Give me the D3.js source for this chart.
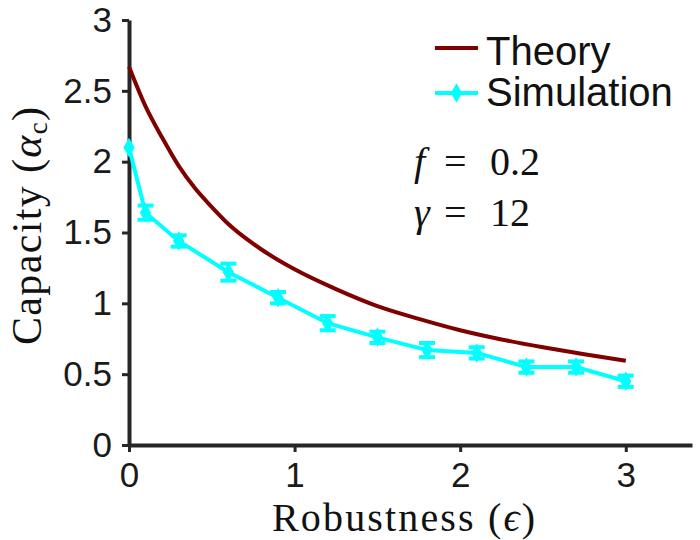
<!DOCTYPE html>
<html lang="en">
<head>
    <meta charset="UTF-8">
    <title>Capacity vs Robustness</title>
    <script src="https://d3js.org/d3.v7.min.js"></script>
    <style>
        body { margin: 0; background: #fff; }
        .tick text { font-family: "Liberation Sans", Arial, sans-serif; fill: #1a1a1a; }
        .serif { font-family: "Liberation Serif", "Times New Roman", serif; fill: #111; }
    </style>
</head>
<body>
    <div id="chart"></div>
    <script>
        // Theory curve
        const theoryEps = [0, 0.1, 0.2, 0.3, 0.4, 0.5, 0.6, 0.8, 1.0, 1.25, 1.5, 1.75, 2.0, 2.25, 2.5, 2.75, 3.0];
        const theoryCap = [2.67, 2.39, 2.17, 1.97, 1.81, 1.68, 1.56, 1.38, 1.24, 1.10, 0.98, 0.89, 0.81, 0.745, 0.69, 0.64, 0.595];

        // Simulation points with error bars
        const simEps = [0, 0.1, 0.3, 0.6, 0.9, 1.2, 1.5, 1.8, 2.1, 2.4, 2.7, 3.0];
        const simCap = [2.10, 1.64, 1.44, 1.22, 1.04, 0.86, 0.76, 0.67, 0.65, 0.55, 0.55, 0.45];
        const simErr = [0.0, 0.05, 0.04, 0.06, 0.04, 0.05, 0.04, 0.05, 0.04, 0.04, 0.04, 0.04];

        const xTicks = [0, 1, 2, 3];
        const yTicks = [0, 0.5, 1, 1.5, 2, 2.5, 3];

        const width = 700, height = 540;
        const theoryColor = "#800000", simColor = "#00ffff", axisColor = "#262626";

        const svg = d3.select("#chart").append("svg")
            .attr("width", width)
            .attr("height", height);

        const x = d3.scaleLinear().domain([0, 3.4]).range([129, 692]);
        const y = d3.scaleLinear().domain([0, 3]).range([445, 20]);

        // axes
        const xAxis = svg.append("g")
            .attr("transform", `translate(0,${y(0)})`)
            .call(d3.axisBottom(x).tickValues(xTicks).tickFormat(d3.format("d"))
                .tickSize(7).tickSizeOuter(0).tickPadding(10));
        const yAxis = svg.append("g")
            .attr("transform", `translate(${x(0)},0)`)
            .call(d3.axisLeft(y).tickValues(yTicks).tickFormat(d => String(d))
                .tickSize(7).tickSizeOuter(0).tickPadding(10));

        [xAxis, yAxis].forEach(g => {
            g.select(".domain").attr("stroke", axisColor).attr("stroke-width", 4);
            g.selectAll(".tick line").attr("stroke", axisColor).attr("stroke-width", 3);
            g.selectAll(".tick text").attr("font-size", 35);
        });

        // theory line
        const theory = theoryEps.map((e, i) => [e, theoryCap[i]]);
        svg.append("path")
            .datum(theory)
            .attr("fill", "none")
            .attr("stroke", theoryColor)
            .attr("stroke-width", 4)
            .attr("d", d3.line().x(d => x(d[0])).y(d => y(d[1])).curve(d3.curveMonotoneX));

        // simulation line
        const sim = simEps.map((e, i) => ({ e: e, c: simCap[i], err: simErr[i] }));
        svg.append("path")
            .datum(sim)
            .attr("fill", "none")
            .attr("stroke", simColor)
            .attr("stroke-width", 4)
            .attr("d", d3.line().x(d => x(d.e)).y(d => y(d.c)));

        // error bars
        const bars = svg.append("g").attr("stroke", simColor).attr("stroke-width", 4);
        sim.filter(d => d.err > 0).forEach(d => {
            const cx = x(d.e);
            bars.append("line").attr("x1", cx).attr("x2", cx)
                .attr("y1", y(d.c - d.err)).attr("y2", y(d.c + d.err));
            [d.c - d.err, d.c + d.err].forEach(v => {
                bars.append("line").attr("x1", cx - 8).attr("x2", cx + 8)
                    .attr("y1", y(v)).attr("y2", y(v));
            });
        });

        // markers
        const diamond = d3.symbol().type(d3.symbolDiamond).size(70);
        svg.append("g").selectAll("path")
            .data(sim)
            .join("path")
            .attr("transform", d => `translate(${x(d.e)},${y(d.c)})`)
            .attr("d", diamond)
            .attr("fill", simColor)
            .attr("stroke", simColor)
            .attr("stroke-width", 2);

        // legend
        const legend = svg.append("g");
        legend.append("line").attr("x1", 435).attr("x2", 478).attr("y1", 48).attr("y2", 48)
            .attr("stroke", theoryColor).attr("stroke-width", 4);
        legend.append("line").attr("x1", 435).attr("x2", 478).attr("y1", 93).attr("y2", 93)
            .attr("stroke", simColor).attr("stroke-width", 4);
        legend.append("path").attr("transform", "translate(456.5,93)").attr("d", diamond)
            .attr("fill", simColor).attr("stroke", simColor).attr("stroke-width", 2);
        legend.selectAll("text")
            .data([["Theory", 65], ["Simulation", 106]])
            .join("text")
            .attr("x", 486).attr("y", d => d[1])
            .attr("font-family", "Liberation Sans, Arial, sans-serif")
            .attr("font-size", 40)
            .attr("fill", "#111")
            .text(d => d[0]);

        // parameter annotations (math-style spacing around "=")
        const ann1 = svg.append("text").attr("class", "serif").attr("y", 175).attr("font-size", 40);
        ann1.append("tspan").attr("x", 414).attr("font-style", "italic").text("f");
        ann1.append("tspan").attr("x", 444).text("=");
        ann1.append("tspan").attr("x", 490).text("0.2");
        const ann2 = svg.append("text").attr("class", "serif").attr("y", 226).attr("font-size", 40);
        ann2.append("tspan").attr("x", 414).attr("font-style", "italic").text("γ");
        ann2.append("tspan").attr("x", 444).text("=");
        ann2.append("tspan").attr("x", 490).text("12");

        // axis titles
        const xt = svg.append("text").attr("class", "serif")
            .attr("x", 272).attr("y", 531)
            .attr("font-size", 40)
            .attr("textLength", 263).attr("lengthAdjust", "spacing");
        xt.append("tspan").text("Robustness (");
        xt.append("tspan").attr("font-style", "italic").text("ϵ");
        xt.append("tspan").text(")");

        const yt = svg.append("text").attr("class", "serif")
            .attr("transform", "translate(41,345) rotate(-90)")
            .attr("font-size", 42)
            .attr("textLength", 238).attr("lengthAdjust", "spacing");
        yt.append("tspan").text("Capacity (");
        yt.append("tspan").attr("font-style", "italic").text("α");
        yt.append("tspan").attr("font-size", 27).attr("dy", 6).text("c");
        yt.append("tspan").attr("dy", -6).text(")");
    </script>
</body>
</html>
